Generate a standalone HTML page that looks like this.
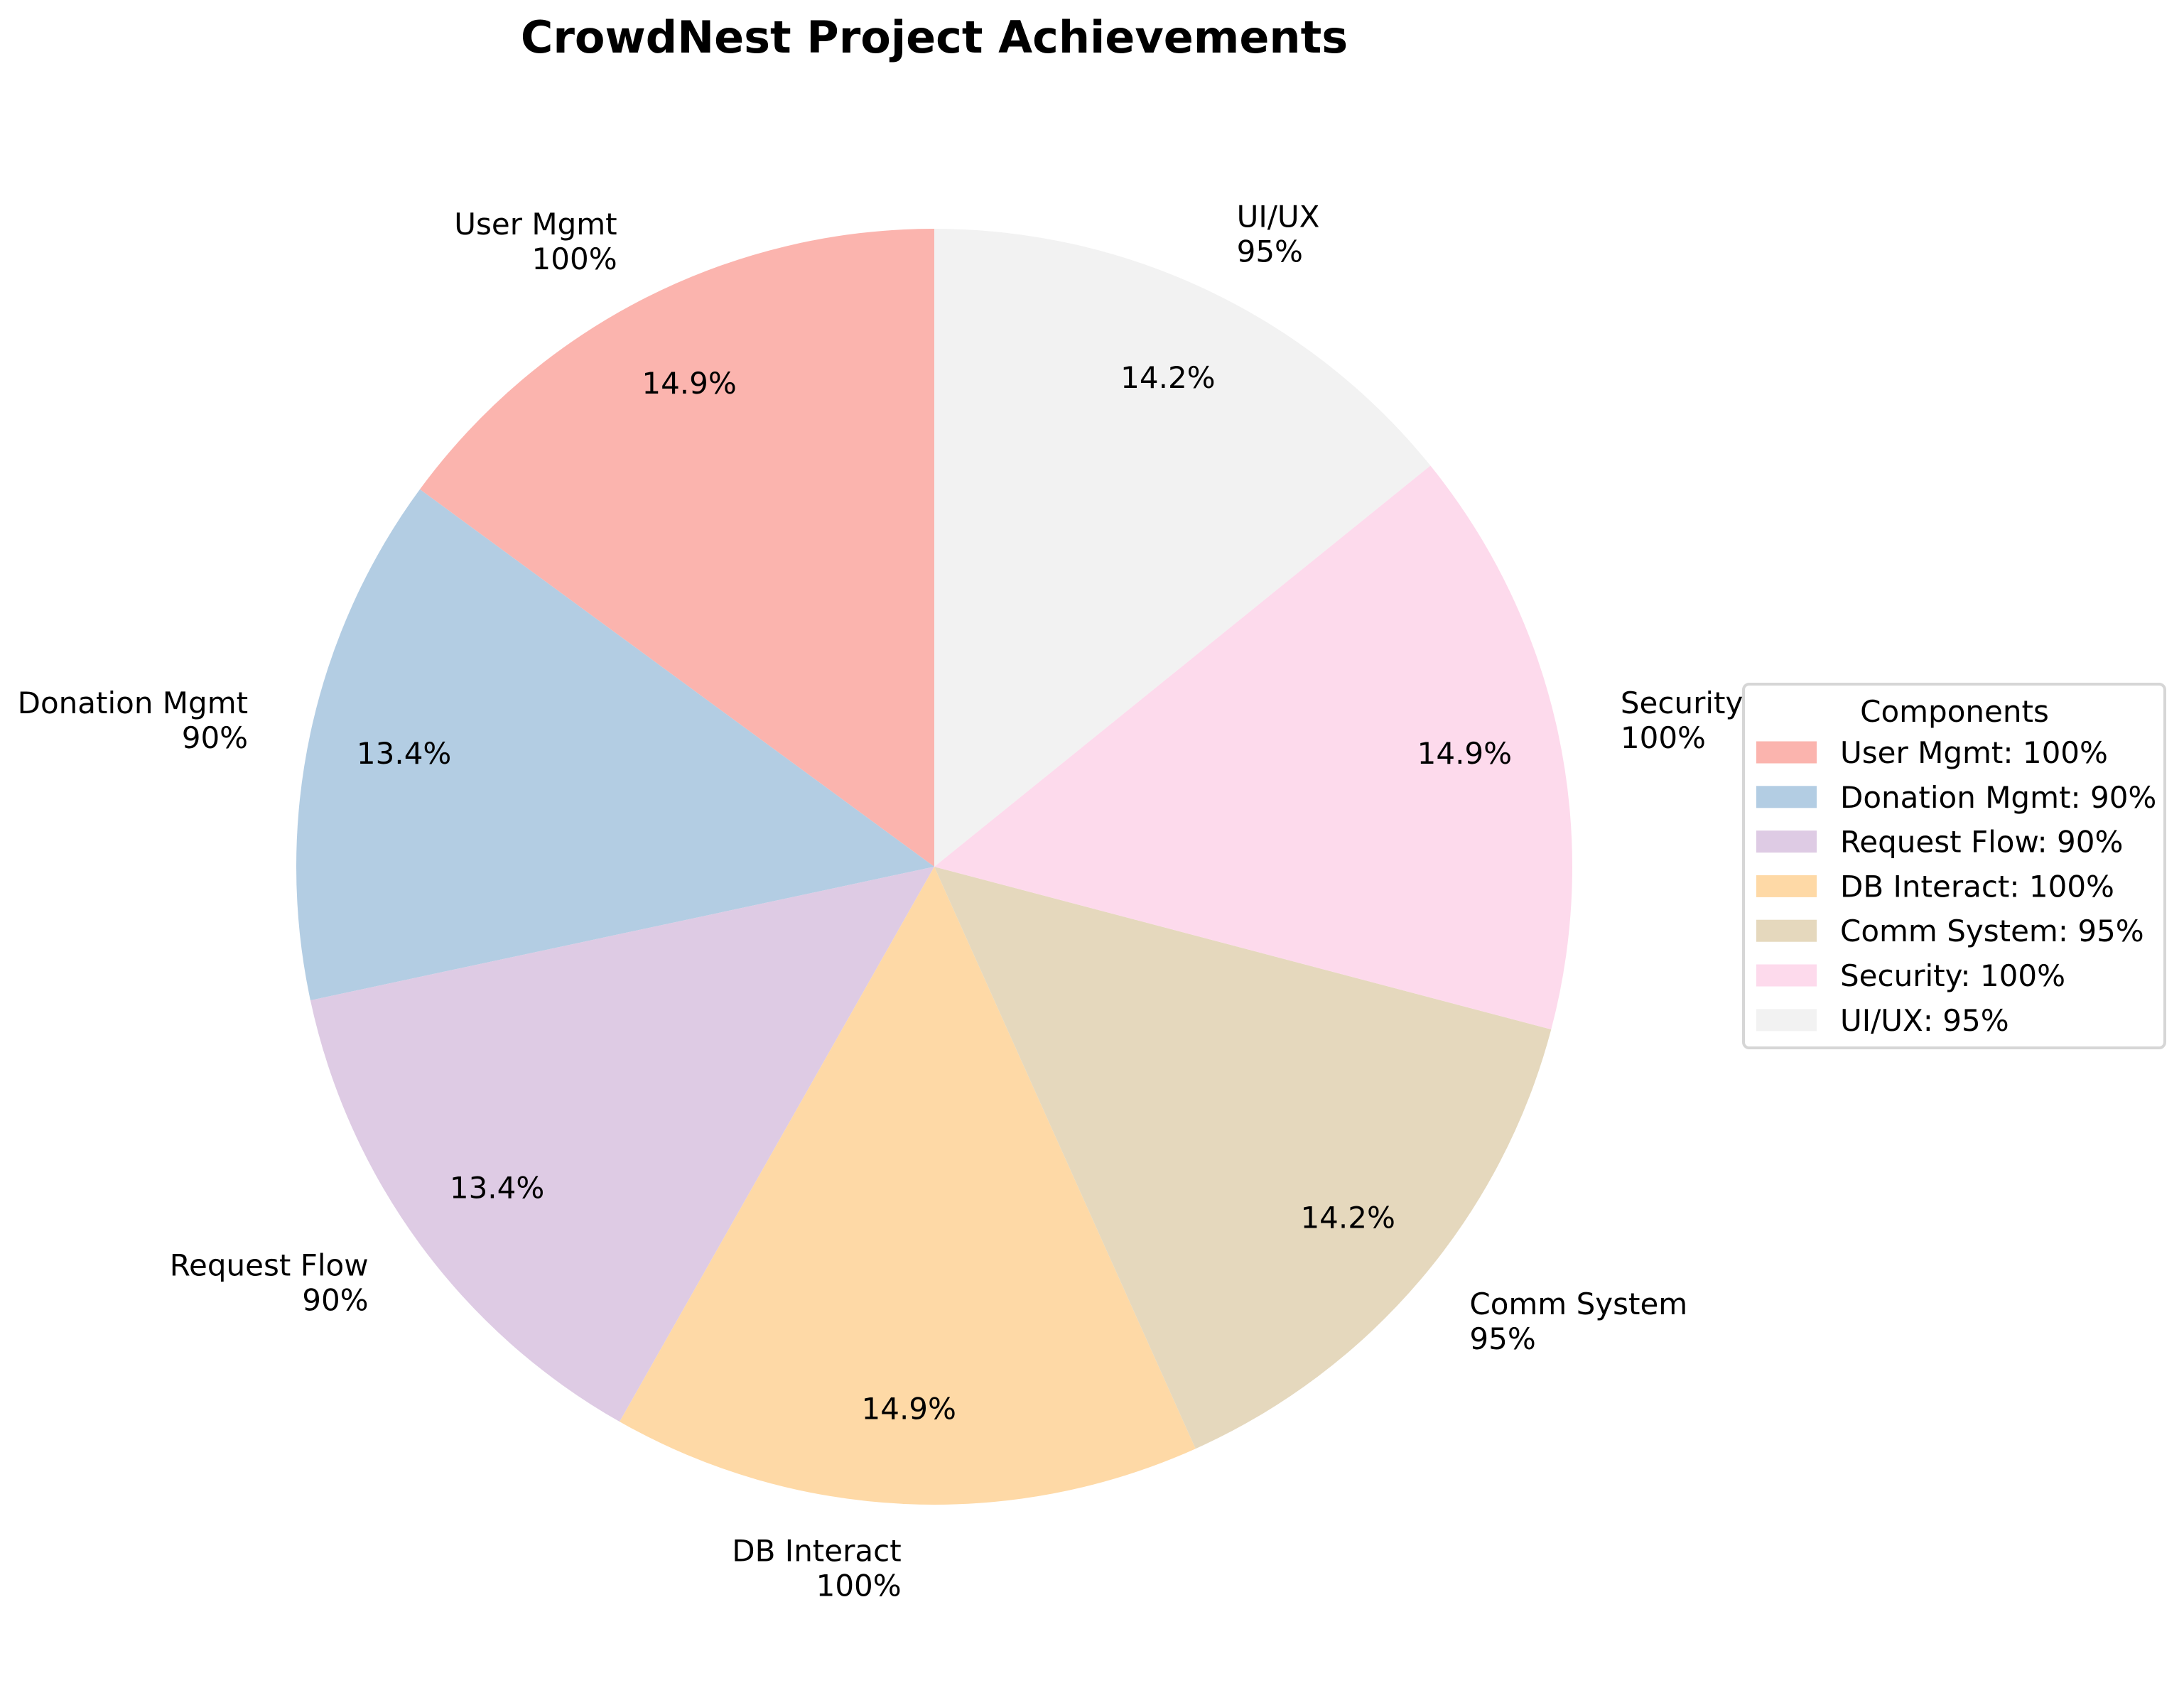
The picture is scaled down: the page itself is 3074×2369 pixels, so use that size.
<!DOCTYPE html>
<html><head><meta charset="utf-8"><style>
html,body{margin:0;padding:0;background:#fff}
svg{display:block;font-family:"DejaVu Sans","Liberation Sans",sans-serif}
</style></head><body>
<svg id="chart" width="3074" height="2369" viewBox="0 0 3074 2369" xmlns="http://www.w3.org/2000/svg">
<rect width="3074" height="2369" fill="#fff"/>
<text x="1315" y="74" text-anchor="middle" font-size="62" font-weight="bold">CrowdNest Project Achievements</text>
<g id="slices"></g>
<g id="legend">
<rect x="2454" y="963" width="593" height="512" rx="8" fill="#fff" stroke="#d6d6d6" stroke-width="4"/>
<text x="2751" y="1016" text-anchor="middle" font-size="42">Components</text>
</g>
</svg>
<script>
const categories = ["User Mgmt","Donation Mgmt","Request Flow","DB Interact","Comm System","Security","UI/UX"];
const values = [100,90,90,100,95,100,95];
const colors = ["#fbb4ae","#b3cde3","#decbe4","#fed9a6","#e5d8bd","#fddaec","#f2f2f2"];

const NS="http://www.w3.org/2000/svg";
const sg=document.getElementById('slices');
const lg=document.getElementById('legend');
const cx=1315, cy=1220, R=898;
const total=values.reduce((a,b)=>a+b,0);
function pt(deg,r){const a=deg*Math.PI/180;return [cx+r*Math.cos(a), cy-r*Math.sin(a)];}
function mk(tag,attrs){const e=document.createElementNS(NS,tag);for(const k in attrs)e.setAttribute(k,attrs[k]);return e;}
let start=90;
values.forEach((v,i)=>{
  const sweep=v/total*360, end=start+sweep, mid=start+sweep/2;
  const p1=pt(start,R), p2=pt(end,R);
  const large=sweep>180?1:0;
  const path=mk('path',{d:`M${cx},${cy} L${p1[0]},${p1[1]} A${R},${R} 0 ${large} 0 ${p2[0]},${p2[1]} Z`,fill:colors[i]});
  
  
  sg.appendChild(path);
  const pp=pt(mid,R*0.85);
  const pct=mk('text',{x:pp[0],y:pp[1]+15,'text-anchor':'middle','font-size':42});
  pct.textContent=(v/total*100).toFixed(1)+'%';
  
  
  sg.appendChild(pct);
  const lp=pt(mid,R*1.1);
  const anchor=Math.cos(mid*Math.PI/180)<0?'end':'start';
  const lab=mk('text',{x:lp[0],y:lp[1],'text-anchor':anchor,'font-size':42});
  const t1=mk('tspan',{x:lp[0],dy:-9});t1.textContent=categories[i];
  const t2=mk('tspan',{x:lp[0],dy:49});t2.textContent=v+'%';
  lab.appendChild(t1);lab.appendChild(t2);
  
  
  sg.appendChild(lab);
  start=end;
  const ly=1059+i*62.8;
  const sw=mk('rect',{x:2472,y:ly-15.5,width:85,height:31,fill:colors[i]});
  
  
  lg.appendChild(sw);
  const lt=mk('text',{x:2590,y:ly+15,'font-size':42});
  lt.textContent=categories[i]+': '+v+'%';
  
  
  lg.appendChild(lt);
});
</script>
</body></html>
